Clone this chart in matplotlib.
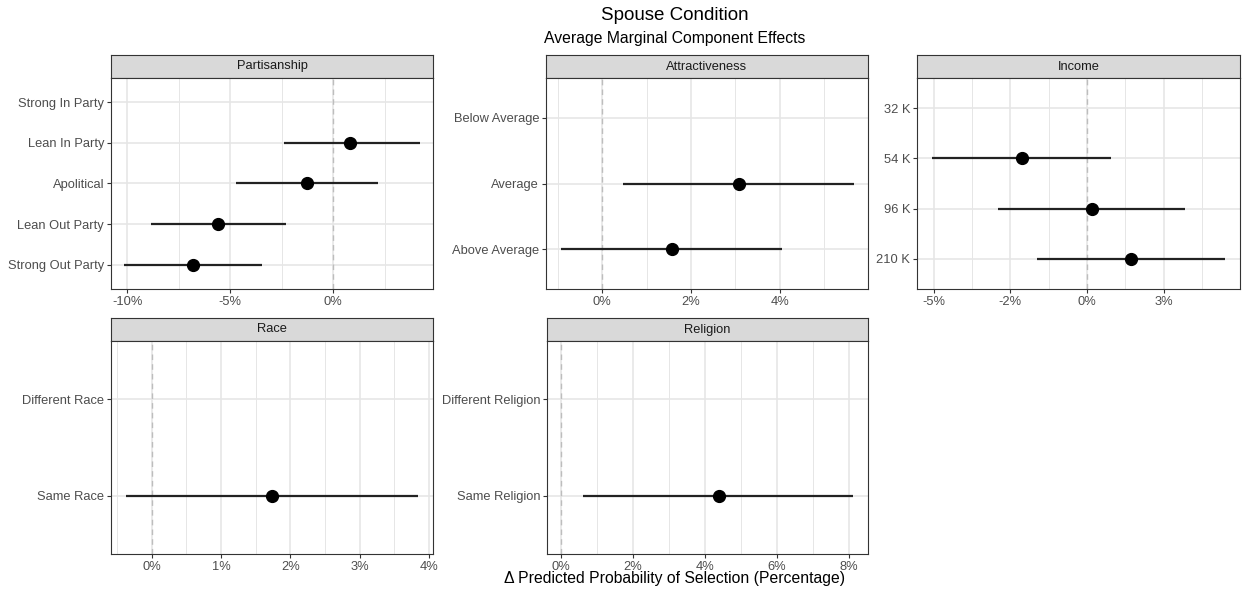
import matplotlib

matplotlib.use("Agg")
import matplotlib.pyplot as plt
import numpy as np

plt.rcParams["font.family"] = ["Liberation Sans", "DejaVu Sans"]

FIG_W, FIG_H = 1244, 596

# ---- data (percentage points), levels listed top to bottom ----
partisanship_levels = ["Strong In Party", "Lean In Party", "Apolitical", "Lean Out Party", "Strong Out Party"]
partisanship_est = [np.nan, 0.83, -1.25, -5.6, -6.8]
partisanship_lo = [np.nan, -2.4, -4.7, -8.85, -10.15]
partisanship_hi = [np.nan, 4.2, 2.2, -2.3, -3.45]

attract_levels = ["Below Average", "Average", "Above Average"]
attract_est = [np.nan, 3.08, 1.57]
attract_lo = [np.nan, 0.47, -0.92]
attract_hi = [np.nan, 5.66, 4.04]

income_levels = ["32 K", "54 K", "96 K", "210 K"]
income_est = [np.nan, -2.12, 0.16, 1.43]
income_lo = [np.nan, -5.05, -2.9, -1.63]
income_hi = [np.nan, 0.78, 3.19, 4.5]

race_levels = ["Different Race", "Same Race"]
race_est = [np.nan, 1.73]
race_lo = [np.nan, -0.38]
race_hi = [np.nan, 3.85]

religion_levels = ["Different Religion", "Same Religion"]
religion_est = [np.nan, 4.39]
religion_lo = [np.nan, 0.61]
religion_hi = [np.nan, 8.11]

# x axis setup per panel: limits, major ticks, labels, minor ticks
panels = [
    dict(title="Partisanship", levels=partisanship_levels, est=partisanship_est,
         lo=partisanship_lo, hi=partisanship_hi, xlim=(-10.78, 4.85),
         major=[-10, -5, 0], labels=["-10%", "-5%", "0%"], minor=[-7.5, -2.5, 2.5],
         box=(111, 55, 433, 289)),
    dict(title="Attractiveness", levels=attract_levels, est=attract_est,
         lo=attract_lo, hi=attract_hi, xlim=(-1.26, 5.98),
         major=[0, 2, 4], labels=["0%", "2%", "4%"], minor=[-1, 1, 3, 5],
         box=(546, 55, 868, 289)),
    dict(title="Income", levels=income_levels, est=income_est,
         lo=income_lo, hi=income_hi, xlim=(-5.54, 4.98),
         major=[-5, -2.5, 0, 2.5], labels=["-5%", "-2%", "0%", "3%"],
         minor=[-3.75, -1.25, 1.25, 3.75],
         box=(917, 55, 1240, 289)),
    dict(title="Race", levels=race_levels, est=race_est,
         lo=race_lo, hi=race_hi, xlim=(-0.59, 4.06),
         major=[0, 1, 2, 3, 4], labels=["0%", "1%", "2%", "3%", "4%"],
         minor=[-0.5, 0.5, 1.5, 2.5, 3.5],
         box=(111, 318, 433, 554)),
    dict(title="Religion", levels=religion_levels, est=religion_est,
         lo=religion_lo, hi=religion_hi, xlim=(-0.39, 8.53),
         major=[0, 2, 4, 6, 8], labels=["0%", "2%", "4%", "6%", "8%"],
         minor=[1, 3, 5, 7],
         box=(547, 318, 868, 554)),
]

STRIP_H = 23
GRID = "#E6E6E6"
BORDER = "#333333"
TEXT = "#4D4D4D"


def px_rect(x0, y0, x1, y1):
    return [x0 / FIG_W, 1 - y1 / FIG_H, (x1 - x0) / FIG_W, (y1 - y0) / FIG_H]


def draw_panel(fig, p):
    x0, y0, x1, y1 = p["box"]
    strip = fig.add_axes(px_rect(x0, y0, x1, y0 + STRIP_H))
    strip.set_facecolor("#D9D9D9")
    strip.set_xticks([])
    strip.set_yticks([])
    for s in strip.spines.values():
        s.set_color(BORDER)
        s.set_linewidth(0.8)
    strip.text(0.5, 0.5, p["title"], ha="center", va="center", fontsize=9.3,
               color="#1A1A1A", transform=strip.transAxes)

    ax = fig.add_axes(px_rect(x0, y0 + STRIP_H, x1, y1))
    n = len(p["levels"])
    ypos = np.arange(n, 0, -1)
    ax.set_ylim(0.4, n + 0.6)
    ax.set_xlim(*p["xlim"])

    for x in p["minor"]:
        ax.axvline(x, color=GRID, lw=0.7, zorder=0)
    for x in p["major"]:
        ax.axvline(x, color=GRID, lw=1.2, zorder=0)
    for y in ypos:
        ax.axhline(y, color=GRID, lw=1.2, zorder=0)

    ax.axvline(0, color="#BDBDBD", lw=1.0, ls=(0, (4, 3)), zorder=1)

    est = np.array(p["est"])
    lo = np.array(p["lo"])
    hi = np.array(p["hi"])
    ax.hlines(ypos, lo, hi, color="#222222", lw=1.6, zorder=2)
    ax.plot(est, ypos, "o", color="black", ms=8.5, zorder=3)

    ax.set_yticks(ypos)
    ax.set_yticklabels(p["levels"])
    ax.set_xticks(p["major"])
    ax.set_xticklabels(p["labels"])
    ax.tick_params(axis="both", labelsize=9.3, labelcolor=TEXT, color=BORDER,
                   length=3, width=0.8, pad=2)
    for s in ax.spines.values():
        s.set_color(BORDER)
        s.set_linewidth(0.8)
    return ax


fig = plt.figure(figsize=(FIG_W / 100, FIG_H / 100), dpi=100)
for p in panels:
    draw_panel(fig, p)

fig.text(675 / FIG_W, 1 - 15 / FIG_H, "Spouse Condition", ha="center", va="center",
         fontsize=13.5, color="black")
fig.text(675 / FIG_W, 1 - 38 / FIG_H, "Average Marginal Component Effects", ha="center",
         va="center", fontsize=11.3, color="black")
fig.text(675 / FIG_W, 1 - 579 / FIG_H, "\u0394 Predicted Probability of Selection (Percentage)",
         ha="center", va="center", fontsize=11.3, color="black")

fig.savefig("out.png", dpi=100)
